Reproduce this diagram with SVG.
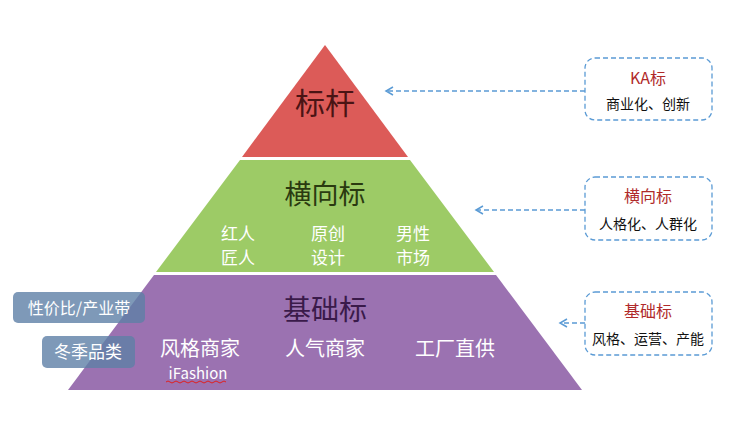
<svg xmlns="http://www.w3.org/2000/svg" width="755" height="438" viewBox="0 0 755 438">
<defs>
<style>
text{font-family:"Noto Sans CJK SC","Liberation Sans",sans-serif}
.w{fill:#fff;text-anchor:middle}
.d{fill:#2a3a10;text-anchor:middle}
.box{fill:#fff;stroke:#5b9bd5;stroke-width:1.3;stroke-dasharray:5 3}
.t{fill:#b02a2a;font-size:16px;text-anchor:middle}
.s{fill:#111;font-size:14px;text-anchor:middle}
.c{stroke:#5b9bd5;stroke-width:1.5;stroke-dasharray:5 3;fill:none}
.lab{fill:#5e7fa6;fill-opacity:0.8}
</style>
<marker id="a" markerWidth="10" markerHeight="10" refX="8" refY="5" orient="auto" markerUnits="userSpaceOnUse"><path d="M1,1 L8,5 L1,9" fill="none" stroke="#5b9bd5" stroke-width="1.5"/></marker>
</defs>
<g id="top"><polygon points="325,45 408,157 242,157" fill="#dc5b58"/><text x="325" y="114" font-size="30" text-anchor="middle" fill="#4a1414">标杆</text></g>
<g id="mid"><polygon points="240,160 410,160 494,272 156,272" fill="#9dcb66"/>
<text class="d" x="325" y="204" font-size="27">横向标</text>
<text class="w" x="238" y="240" font-size="17">红人</text><text class="w" x="238" y="264" font-size="17">匠人</text>
<text class="w" x="328" y="240" font-size="17">原创</text><text class="w" x="328" y="264" font-size="17">设计</text>
<text class="w" x="413" y="240" font-size="17">男性</text><text class="w" x="413" y="264" font-size="17">市场</text></g>
<g id="base"><polygon points="154,275 496,275 582,390 68,390" fill="#9b72b1"/>
<text x="325" y="320" font-size="28" text-anchor="middle" fill="#3a1a4a">基础标</text>
<text class="w" x="200" y="356" font-size="20">风格商家</text>
<text class="w" x="325" y="356" font-size="20">人气商家</text>
<text class="w" x="455" y="356" font-size="20">工厂直供</text>
<text class="w" x="198" y="379" font-size="15">iFashion</text>
<path d="M166,382 q2,-2 4,0 t4,0 t4,0 t4,0 t4,0 t4,0 t4,0 t4,0 t4,0 t4,0 t4,0 t4,0 t4,0 t4,0 t4,0" stroke="#e02020" fill="none" stroke-width="1"/></g>
<g id="lab1"><rect class="lab" x="13" y="292" width="132" height="31" rx="5"/><text class="w" x="79" y="314" font-size="16">性价比/产业带</text></g>
<g id="lab2"><rect class="lab" x="42" y="336" width="93" height="32" rx="5"/><text class="w" x="88" y="358" font-size="17">冬季品类</text></g>
<g id="b1"><rect class="box" x="585" y="58" width="127" height="62" rx="10"/><text class="t" x="648" y="84">KA标</text><text class="s" x="648" y="109">商业化、创新</text></g>
<g id="b2"><rect class="box" x="585" y="177" width="127" height="63" rx="10"/><text class="t" x="648" y="202">横向标</text><text class="s" x="648" y="229">人格化、人群化</text></g>
<g id="b3"><rect class="box" x="585" y="292" width="127" height="63" rx="10"/><text class="t" x="648" y="317">基础标</text><text class="s" x="648" y="344">风格、运营、产能</text></g>
<g id="connectors">
<path class="c" d="M585,91 L386,91" marker-end="url(#a)"/>
<path class="c" d="M585,210 L476,210" marker-end="url(#a)"/>
<path class="c" d="M585,323 L560,323" marker-end="url(#a)"/>
</g>
</svg>
